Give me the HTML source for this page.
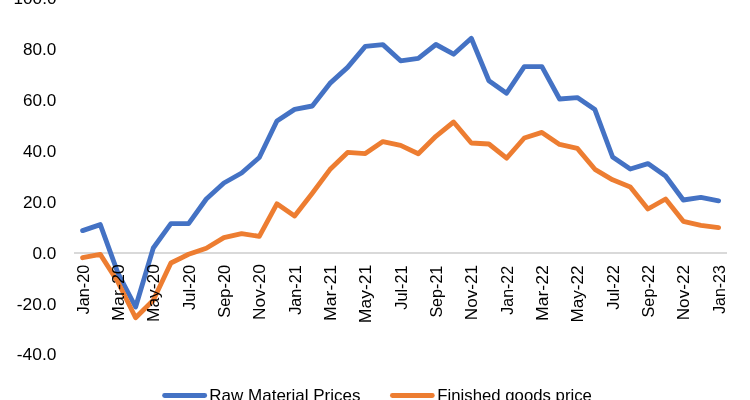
<!DOCTYPE html>
<html lang="en">
<head>
<meta charset="utf-8">
<title>Raw Material Prices vs Finished goods price</title>
<style>
html,body{margin:0;padding:0;background:#fff;}
body{width:750px;height:400px;overflow:hidden;}
svg{display:block;}
text{font-family:"Liberation Sans",sans-serif;font-size:17px;fill:#000;}
</style>
</head>
<body>
<svg width="750" height="400" viewBox="0 0 750 400">
<rect width="750" height="400" fill="#fff"/>
<line x1="74" y1="253" x2="727" y2="253" stroke="#d9d9d9" stroke-width="2"/>
<text x="56.4" y="4.3" text-anchor="end" textLength="42.8" lengthAdjust="spacingAndGlyphs">100.0</text>
<text x="56.4" y="55.2" text-anchor="end" textLength="33.4" lengthAdjust="spacingAndGlyphs">80.0</text>
<text x="56.4" y="106.1" text-anchor="end" textLength="33.4" lengthAdjust="spacingAndGlyphs">60.0</text>
<text x="56.4" y="157.0" text-anchor="end" textLength="33.4" lengthAdjust="spacingAndGlyphs">40.0</text>
<text x="56.4" y="208.0" text-anchor="end" textLength="33.4" lengthAdjust="spacingAndGlyphs">20.0</text>
<text x="56.4" y="259.4" text-anchor="end" textLength="23.9" lengthAdjust="spacingAndGlyphs">0.0</text>
<text x="56.4" y="310.3" text-anchor="end" textLength="39.6" lengthAdjust="spacingAndGlyphs">-20.0</text>
<text x="56.4" y="360.1" text-anchor="end" textLength="39.6" lengthAdjust="spacingAndGlyphs">-40.0</text>
<polyline points="82.6,230.6 100.3,224.6 117.9,273.0 135.6,307.0 153.3,248.0 170.9,223.6 188.6,223.6 206.3,199.0 223.9,183.0 241.6,173.0 259.3,157.5 276.9,121.0 294.6,109.4 312.3,106.0 329.9,83.4 347.6,67.4 365.3,46.4 382.9,44.6 400.6,60.8 418.3,58.4 435.9,44.5 453.6,54.2 471.3,38.3 488.9,80.8 506.6,93.2 524.3,66.6 541.9,66.6 559.6,99.0 577.3,97.6 594.9,109.6 612.6,157.0 630.3,169.0 647.9,163.6 665.6,176.0 683.3,200.0 700.9,197.4 718.6,200.8" fill="none" stroke="#4472c4" stroke-width="4.85" stroke-linecap="round" stroke-linejoin="round"/>
<polyline points="82.6,257.7 100.3,254.4 117.9,282.0 135.6,317.8 153.3,300.3 170.9,263.0 188.6,254.3 206.3,248.3 223.9,237.6 241.6,233.6 259.3,236.4 276.9,203.8 294.6,216.0 312.3,193.2 329.9,169.6 347.6,152.4 365.3,153.6 382.9,141.6 400.6,145.4 418.3,153.8 435.9,136.3 453.6,122.0 471.3,143.0 488.9,144.0 506.6,158.2 524.3,138.0 541.9,132.4 559.6,144.4 577.3,148.4 594.9,169.3 612.6,179.8 630.3,187.0 647.9,209.0 665.6,199.0 683.3,221.3 700.9,225.3 718.6,227.6" fill="none" stroke="#ed7d31" stroke-width="4.85" stroke-linecap="round" stroke-linejoin="round"/>
<text transform="translate(88.6,264.90) rotate(-90)" text-anchor="end" textLength="49.30" lengthAdjust="spacingAndGlyphs">Jan-20</text>
<text transform="translate(123.9,264.15) rotate(-90)" text-anchor="end" textLength="56.82" lengthAdjust="spacingAndGlyphs">Mar-20</text>
<text transform="translate(159.3,264.15) rotate(-90)" text-anchor="end" textLength="57.92" lengthAdjust="spacingAndGlyphs">May-20</text>
<text transform="translate(194.6,264.90) rotate(-90)" text-anchor="end" textLength="45.15" lengthAdjust="spacingAndGlyphs">Jul-20</text>
<text transform="translate(229.9,264.90) rotate(-90)" text-anchor="end" textLength="52.74" lengthAdjust="spacingAndGlyphs">Sep-20</text>
<text transform="translate(265.3,264.20) rotate(-90)" text-anchor="end" textLength="55.78" lengthAdjust="spacingAndGlyphs">Nov-20</text>
<text transform="translate(300.6,265.24) rotate(-90)" text-anchor="end" textLength="49.49" lengthAdjust="spacingAndGlyphs">Jan-21</text>
<text transform="translate(335.9,264.99) rotate(-90)" text-anchor="end" textLength="55.92" lengthAdjust="spacingAndGlyphs">Mar-21</text>
<text transform="translate(371.3,264.75) rotate(-90)" text-anchor="end" textLength="58.40" lengthAdjust="spacingAndGlyphs">May-21</text>
<text transform="translate(406.6,265.48) rotate(-90)" text-anchor="end" textLength="44.22" lengthAdjust="spacingAndGlyphs">Jul-21</text>
<text transform="translate(441.9,265.72) rotate(-90)" text-anchor="end" textLength="51.90" lengthAdjust="spacingAndGlyphs">Sep-21</text>
<text transform="translate(477.3,265.00) rotate(-90)" text-anchor="end" textLength="55.22" lengthAdjust="spacingAndGlyphs">Nov-21</text>
<text transform="translate(512.6,266.00) rotate(-90)" text-anchor="end" textLength="48.70" lengthAdjust="spacingAndGlyphs">Jan-22</text>
<text transform="translate(547.9,265.24) rotate(-90)" text-anchor="end" textLength="55.68" lengthAdjust="spacingAndGlyphs">Mar-22</text>
<text transform="translate(583.3,265.50) rotate(-90)" text-anchor="end" textLength="57.04" lengthAdjust="spacingAndGlyphs">May-22</text>
<text transform="translate(618.6,264.99) rotate(-90)" text-anchor="end" textLength="44.83" lengthAdjust="spacingAndGlyphs">Jul-22</text>
<text transform="translate(653.9,264.99) rotate(-90)" text-anchor="end" textLength="52.55" lengthAdjust="spacingAndGlyphs">Sep-22</text>
<text transform="translate(689.3,265.00) rotate(-90)" text-anchor="end" textLength="55.25" lengthAdjust="spacingAndGlyphs">Nov-22</text>
<text transform="translate(724.6,265.21) rotate(-90)" text-anchor="end" textLength="48.66" lengthAdjust="spacingAndGlyphs">Jan-23</text>
<line x1="164.6" y1="395.5" x2="204.7" y2="395.5" stroke="#4472c4" stroke-width="4.85" stroke-linecap="round"/>
<text x="209.3" y="401.4" textLength="151.2" lengthAdjust="spacingAndGlyphs">Raw Material Prices</text>
<line x1="392.4" y1="395.5" x2="432.3" y2="395.5" stroke="#ed7d31" stroke-width="4.85" stroke-linecap="round"/>
<text x="437.3" y="401.4" textLength="154.6" lengthAdjust="spacingAndGlyphs">Finished goods price</text>
</svg>
</body>
</html>
